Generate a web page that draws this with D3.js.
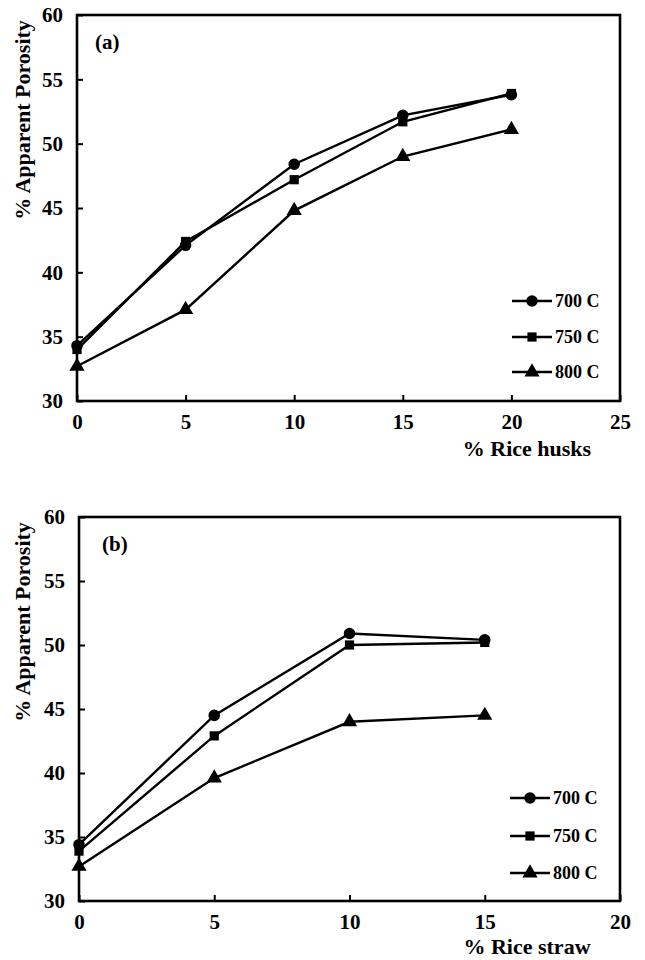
<!DOCTYPE html>
<html>
<head>
<meta charset="utf-8">
<script src="https://cdn.jsdelivr.net/npm/d3@7"></script>
<style>
  html, body { margin: 0; padding: 0; background: #fff; }
  svg { display: block; }
</style>
</head>
<body>
<svg id="fig" width="645" height="960"></svg>
<script>
// Firing temperatures (series)
const temps = ["700 C", "750 C", "800 C"];
const markerKinds = ["circle", "square", "triangle"];

// Panel (a): rice husk additions
const huskPct = [0, 5, 10, 15, 20];
const husk700 = [34.3, 42.1, 48.4, 52.2, 53.8];
const husk750 = [34.0, 42.4, 47.2, 51.7, 53.9];
const husk800 = [32.7, 37.1, 44.8, 49.0, 51.1];
const huskTicks = [0, 5, 10, 15, 20, 25];

// Panel (b): rice straw additions
const strawPct = [0, 5, 10, 15];
const straw700 = [34.4, 44.5, 50.9, 50.4];
const straw750 = [33.9, 42.9, 50.0, 50.2];
const straw800 = [32.7, 39.6, 44.0, 44.5];
const strawTicks = [0, 5, 10, 15, 20];

// Shared porosity axis
const porosityTicks = [30, 35, 40, 45, 50, 55, 60];

const serif = "'Liberation Serif', 'Times New Roman', 'DejaVu Serif', serif";
const svg = d3.select("#fig");

function markerPath(kind) {
  if (kind === "circle") return d3.symbol(d3.symbolCircle, 105)();
  if (kind === "square") return d3.symbol(d3.symbolSquare, 85)();
  return d3.symbol(d3.symbolTriangle, 100)();
}

function drawPanel(cfg) {
  const g = svg.append("g");
  const x = d3.scaleLinear().domain([cfg.xTicks[0], cfg.xTicks[cfg.xTicks.length - 1]]).range([cfg.left, cfg.right]);
  const y = d3.scaleLinear().domain([30, 60]).range([cfg.bottom, cfg.top]);

  // axes with inward ticks
  const xAxis = d3.axisBottom(x).tickValues(cfg.xTicks).tickSizeInner(-6).tickSizeOuter(0).tickPadding(13);
  const yAxis = d3.axisLeft(y).tickValues(porosityTicks).tickSizeInner(-6).tickSizeOuter(0).tickPadding(14);

  const gx = g.append("g").attr("transform", `translate(0,${cfg.bottom})`).call(xAxis);
  const gy = g.append("g").attr("transform", `translate(${cfg.left},0)`).call(yAxis);
  [gx, gy].forEach(a => {
    a.attr("font-family", null).attr("font-size", null);
    a.select(".domain").remove();
    a.selectAll(".tick line").attr("stroke", "#000").attr("stroke-width", 2);
    a.selectAll(".tick text").style("font-size", "21px").attr("fill", "#000");
  });

  // plot frame
  g.append("rect")
    .attr("x", cfg.left).attr("y", cfg.top)
    .attr("width", cfg.right - cfg.left).attr("height", cfg.bottom - cfg.top)
    .attr("fill", "none").attr("stroke", "#000").attr("stroke-width", 2.6);

  // series lines and markers
  const line = d3.line().x(d => x(d[0])).y(d => y(d[1]));
  cfg.series.forEach((vals, i) => {
    const pts = cfg.xs.map((v, j) => [v, vals[j]]);
    g.append("path").datum(pts).attr("d", line)
      .attr("fill", "none").attr("stroke", "#000").attr("stroke-width", 2.4);
    g.selectAll(null).data(pts).enter().append("path")
      .attr("d", markerPath(markerKinds[i]))
      .attr("transform", d => `translate(${x(d[0])},${y(d[1])})`)
      .attr("fill", "#000");
  });

  // panel tag
  g.append("text").attr("x", cfg.left + cfg.tagDx).attr("y", cfg.top + 34)
    .style("font-size", "21px").text(cfg.tag);

  // legend
  cfg.legendY.forEach((ly, i) => {
    g.append("line").attr("x1", cfg.legendX).attr("x2", cfg.legendX + 40)
      .attr("y1", ly).attr("y2", ly).attr("stroke", "#000").attr("stroke-width", 2.4);
    g.append("path").attr("d", markerPath(markerKinds[i]))
      .attr("transform", `translate(${cfg.legendX + 20},${ly})`).attr("fill", "#000");
    g.append("text").attr("x", cfg.legendX + 43).attr("y", ly).attr("dy", "0.35em")
      .style("font-size", "18px").text(temps[i]);
  });

  // axis titles
  g.append("text").attr("x", cfg.xTitleX).attr("y", cfg.xTitleY)
    .attr("text-anchor", "middle").style("font-size", "22px").text(cfg.xTitle);
  g.append("text")
    .attr("transform", `translate(30,${cfg.top + 105}) rotate(-90)`)
    .attr("text-anchor", "middle").style("font-size", "22px").text("% Apparent Porosity");
}

drawPanel({
  left: 77, right: 620, top: 15, bottom: 401,
  xTicks: huskTicks, xs: huskPct, series: [husk700, husk750, husk800],
  tag: "(a)", tagDx: 18,
  legendX: 512, legendY: [301, 337, 372],
  xTitle: "% Rice husks", xTitleX: 527, xTitleY: 456
});

drawPanel({
  left: 79, right: 620, top: 517, bottom: 901,
  xTicks: strawTicks, xs: strawPct, series: [straw700, straw750, straw800],
  tag: "(b)", tagDx: 23,
  legendX: 510, legendY: [798, 836, 873],
  xTitle: "% Rice straw", xTitleX: 527, xTitleY: 954
});

// bold serif type throughout
svg.selectAll("text")
  .style("font-family", serif)
  .style("font-weight", "bold")
  .attr("fill", "#000");
</script>
</body>
</html>
